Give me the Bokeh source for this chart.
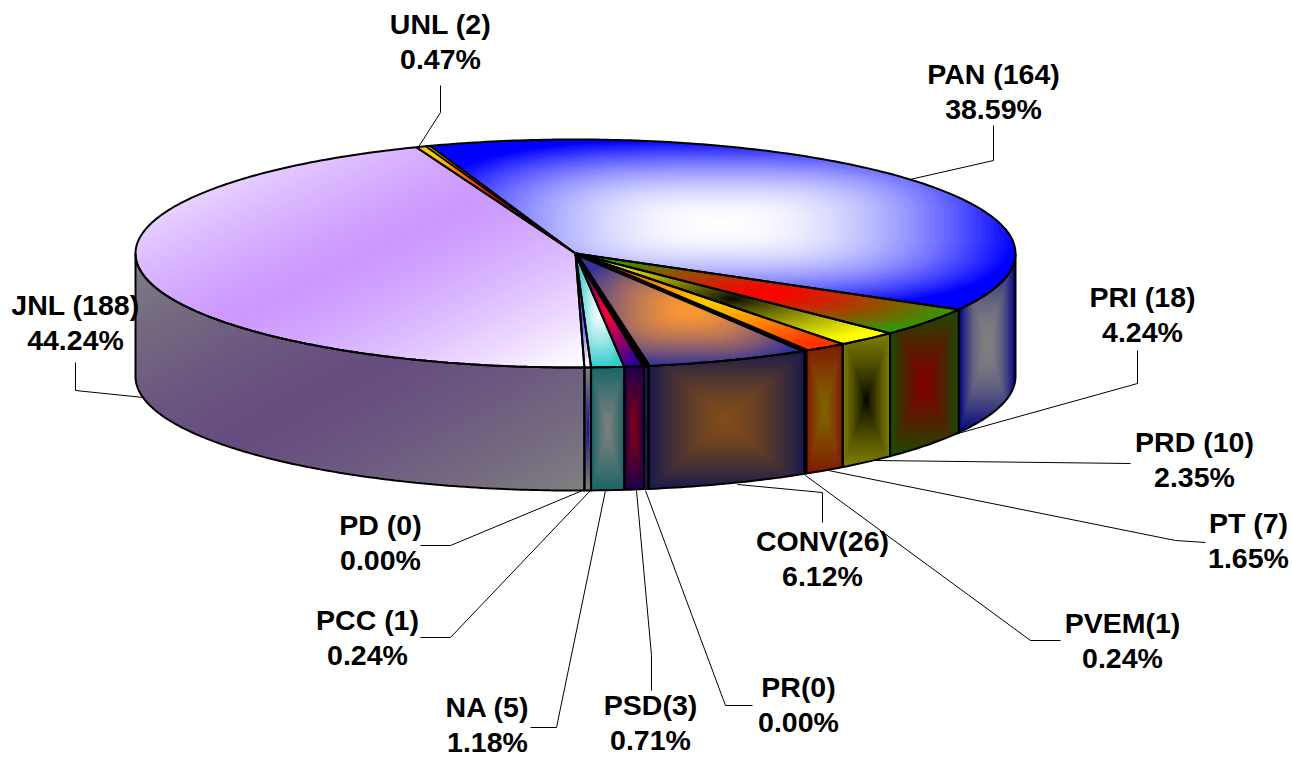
import numpy as np
from bokeh.plotting import figure
from bokeh.models import Range1d
from bokeh.core.properties import value
from bokeh.embed import file_html
from bokeh.resources import INLINE

# ---- data, clockwise from the top of the pie ----
parties = ["PAN", "PRI", "PRD", "PT", "PVEM", "CONV", "PR", "PSD", "NA", "PCC", "PD", "JNL", "UNL"]
seats = [164, 18, 10, 7, 1, 26, 0, 3, 5, 1, 0, 188, 2]
titles = ["PAN (164)", "PRI (18)", "PRD (10)", "PT (7)", "PVEM(1)", "CONV(26)", "PR(0)", "PSD(3)",
          "NA (5)", "PCC (1)", "PD (0)", "JNL (188)", "UNL (2)"]
shares = ["38.59%", "4.24%", "2.35%", "1.65%", "0.24%", "6.12%", "0.00%", "0.71%",
          "1.18%", "0.24%", "0.00%", "44.24%", "0.47%"]

# ---- style: gradient centre and edge colours per slice ----
centre = ["#ffffff", "#ff0000", "#000000", "#ffcc00", "#ffcc00", "#ff9933", "#333399", "#ff0033",
          "#ffffff", "#3333ff", "#ffffff", "#cc99ff", "#ff0000"]
edge = ["#0000ff", "#339900", "#ffff00", "#ff3300", "#ff3300", "#333399", "#333399", "#330099",
        "#33cccc", "#ffffff", "#ffffff", "#ffffff", "#ffcc00"]
gamma = [2.0, 1.3, 0.8, 1.2, 1.2, 1.5, 1.0, 1.2, 1.2, 1.0, 1.0, 1.4, 1.0]
top_width = [2, 2, 2, 2, 4, 2, 4, 2, 2, 2, 2, 2, 2]
DIAGONAL = {"JNL"}

# ---- layout ----
CX, CY, RX, RY, DEPTH = 575.0, 253.0, 440.0, 114.0, 123.0
START = -19.5
MIN_SWEEP = 0.6     # a zero slice still shows as a sliver in the reference
WARP_A = [-19.5, 119, 135, 149.1, 150, 172, 181, 339, 340.5]
WARP_D = [-0.4, 0, -0.3, -0.7, -1.35, -1.5, -1.3, -0.7, -0.4]
FONT = "Liberation Sans"
FS = "28.5px"
LINE_GAP = 35

label_xy = {"PAN": (993, 73), "PRI": (1142, 296), "PRD": (1194, 441), "PT": (1248, 522), "PVEM": (1122, 622),
            "CONV": (822, 540), "PR": (798, 686), "PSD": (650, 704), "NA": (487, 706), "PCC": (367, 619),
            "PD": (380, 524), "JNL": (75, 304), "UNL": (440, 23)}
leaders = {"PAN": [(993, 125), (993, 160), (905, 180)],
           "PRI": [(1137, 350), (1137, 383), (925, 442)],
           "PRD": [(1130, 463), (875, 460)],
           "PT": [(1205, 542), (1175, 540), (823, 469)],
           "PVEM": [(1060, 640), (1030, 640), (805, 475)],
           "CONV": [(822, 522), (822, 492), (737, 484)],
           "PR": [(752, 705), (725, 705), (645, 490)],
           "PSD": [(651, 690), (651, 655), (636, 490)],
           "NA": [(530, 727), (556, 727), (605, 490)],
           "PCC": [(420, 637), (450, 637), (590, 490)],
           "PD": [(420, 545), (450, 545), (582, 490)],
           "JNL": [(75, 362), (75, 390), (143, 397)],
           "UNL": [(440, 85), (440, 112), (417, 148)]}


def rgb(h):
    return np.array([int(h[i:i + 2], 16) for i in (1, 3, 5)], dtype=float)


def mix(c, e, t, scale=1.0):
    v = (rgb(c) * (1 - t) + rgb(e) * t) * scale
    return "#%02x%02x%02x" % tuple(int(round(x)) for x in v)


def warp(a):
    return a + np.interp(a, WARP_A, WARP_D)


def arc(a1, a2, dy=0.0):
    n = max(2, int(abs(a2 - a1) / 0.75) + 2)
    a = np.radians(np.linspace(a1, a2, n))
    return [(CX + RX * np.sin(t), CY - RY * np.cos(t) + dy) for t in a]


def clip_half(poly, nx, ny, d):
    """Keep the part of poly where nx*x + ny*y <= d."""
    out = []
    for i, p in enumerate(poly):
        q = poly[(i + 1) % len(poly)]
        fp, fq = nx * p[0] + ny * p[1] - d, nx * q[0] + ny * q[1] - d
        if fp <= 0:
            out.append(p)
        if (fp < 0 < fq) or (fq < 0 < fp):
            s = fp / (fp - fq)
            out.append((p[0] + (q[0] - p[0]) * s, p[1] + (q[1] - p[1]) * s))
    return out


def bbox(poly):
    xs, ys = zip(*poly)
    return min(xs), max(xs), min(ys), max(ys)


def gradient(poly, c, e, diagonal, scale, g, power, X, Y, C, levels=64):
    x0, x1, y0, y1 = bbox(poly)
    mx, my, hw, hh = (x0 + x1) / 2, (y0 + y1) / 2, max((x1 - x0) / 2, .1), max((y1 - y0) / 2, .1)
    X.append([p[0] for p in poly]); Y.append([p[1] for p in poly]); C.append(mix(c, e, 1, scale))
    # normals of a superellipse of the given power (rounded rectangle)
    th = np.radians(np.arange(0, 360, 15) + 7.5)
    for k in range(levels - 1, -1, -1):
        t = (k + 0.5) / levels
        q = list(poly)
        colour_t = t ** g
        if diagonal:
            q = clip_half(q, 1 / (2 * hw), 1 / (2 * hh), (x0 / (2 * hw) + y0 / (2 * hh)) + 1 + t)
            if len(q) > 2:
                q = clip_half(q, -1 / (2 * hw), -1 / (2 * hh), -(x0 / (2 * hw) + y0 / (2 * hh)) - 1 + t)
        else:
            planes = [(1, 0, 1.0), (-1, 0, 1.0), (0, 1, 1.0), (0, -1, 1.0)]
            if power:
                # tangent half-planes cutting the box corners
                e2 = 1 / (power - 1)
                for a in th:
                    ca, sa = np.cos(a), np.sin(a)
                    planes.append((ca, sa, (abs(ca) ** (1 + e2) + abs(sa) ** (1 + e2)) ** (1 / (1 + e2))))
            for nx, ny, d in planes:
                if len(q) > 2:
                    q = clip_half(q, nx / hw, ny / hh, nx * mx / hw + ny * my / hh + d * t)
        if len(q) > 2:
            X.append([p[0] for p in q]); Y.append([p[1] for p in q]); C.append(mix(c, e, colour_t, scale))


# ---- slice boundaries from the values ----
total = sum(seats)
sweeps = [360.0 * s / total for s in seats]
bounds = [START]
for s, name in zip(sweeps, parties):
    bounds.append(bounds[-1] + (MIN_SWEEP if (name == "PR") else s))
bounds = [warp(b) for b in bounds]

p = figure(width=1292, height=757, output_backend="svg", toolbar_location=None,
           x_range=Range1d(0, 1292), y_range=Range1d(757, 0), min_border=0,
           x_axis_location=None, y_axis_location=None, outline_line_color=None,
           background_fill_color="white", border_fill_color="white")
p.grid.visible = False

# leader lines go beneath the pie
p.multi_line([[q[0] for q in leaders[n]] for n in parties], [[q[1] for q in leaders[n]] for n in parties],
             line_color="black", line_width=1)

fx, fy, fc = [], [], []
ox, oy = [], []
tx, ty, tw = [], [], []
for i, n in enumerate(parties):
    a1, a2 = bounds[i], bounds[i + 1]
    if a2 - a1 > 1e-6:
        top = [(CX, CY)] + arc(a1, a2)
        gradient(top, centre[i], edge[i], n in DIAGONAL, 1.0, gamma[i], 3.0, fx, fy, fc)
        tx.append([q[0] for q in top]); ty.append([q[1] for q in top]); tw.append(top_width[i])
    lo, hi = max(a1, 90.0), min(a2, 270.0)
    if hi - lo > 1e-6:
        wall = arc(lo, hi) + arc(hi, lo, DEPTH)
        gradient(wall, centre[i], edge[i], n in DIAGONAL, 0.5, gamma[i], None, fx, fy, fc)
        ox.append([q[0] for q in wall]); oy.append([q[1] for q in wall])
p.patches(fx, fy, fill_color=fc, line_color=None)

# outlines
p.patches(ox, oy, fill_color=None, line_color="black", line_width=2)
p.patches(tx, ty, fill_color=None, line_color="black", line_width=tw)

# labels
lx, ly, lt = [], [], []
for i, n in enumerate(parties):
    x, y = label_xy[n]
    lx += [x, x]; ly += [y, y + LINE_GAP]; lt += [titles[i], shares[i]]
p.text(lx, ly, text=lt, text_font=value(FONT), text_font_size=value(FS), text_font_style="bold",
       text_align="center", text_baseline="middle", text_color="black")

open("out.html", "w").write(file_html(p, INLINE))
